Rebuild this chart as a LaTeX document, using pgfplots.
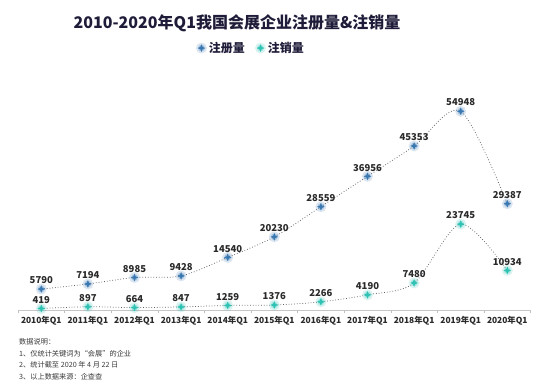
\documentclass[border=0pt]{standalone}
\usepackage{pgfplots}
\pgfplotsset{compat=1.18}
\usepackage{fontspec}
\setmainfont{Noto Sans CJK SC}
\definecolor{blueM}{HTML}{3A78B2}
\definecolor{tealM}{HTML}{2EC2B4}
\definecolor{titleC}{HTML}{1E1C38}
\definecolor{txtC}{HTML}{2A2A2A}
\definecolor{noteC}{HTML}{3A3A3A}
\definecolor{lineC}{HTML}{5A5F66}
\pgfdeclareplotmark{sparkle}{%
  \pgfsetfillopacity{0.18}%
  \pgfpathcircle{\pgfpointorigin}{1.45\pgfplotmarksize}\pgfusepathqfill
  \pgfsetfillopacity{0.3}%
  \pgfpathcircle{\pgfpointorigin}{0.9\pgfplotmarksize}\pgfusepathqfill
  \pgfsetfillopacity{1}%
  \pgfpathmoveto{\pgfqpoint{0pt}{\pgfplotmarksize}}%
  \pgfpathlineto{\pgfqpoint{.3\pgfplotmarksize}{.3\pgfplotmarksize}}%
  \pgfpathlineto{\pgfqpoint{\pgfplotmarksize}{0pt}}%
  \pgfpathlineto{\pgfqpoint{.3\pgfplotmarksize}{-.3\pgfplotmarksize}}%
  \pgfpathlineto{\pgfqpoint{0pt}{-\pgfplotmarksize}}%
  \pgfpathlineto{\pgfqpoint{-.3\pgfplotmarksize}{-.3\pgfplotmarksize}}%
  \pgfpathlineto{\pgfqpoint{-\pgfplotmarksize}{0pt}}%
  \pgfpathlineto{\pgfqpoint{-.3\pgfplotmarksize}{.3\pgfplotmarksize}}%
  \pgfpathclose\pgfusepathqfill}
\begin{document}
\begin{tikzpicture}[x=1pt,y=1pt]
\useasboundingbox[fill=white] (0,0) rectangle (553,391);
\begin{axis}[
  at={(18pt,81pt)}, anchor=south west,
  width=512.6pt, height=217pt, scale only axis,
  xmin=-0.5, xmax=10.5, ymin=0, ymax=60000,
  clip=false,
  axis y line=none,
  axis x line*=bottom,
  axis line style={draw=gray!45, line width=0.8pt},
  xtick={0,...,10},
  xticklabels={2010年Q1,2011年Q1,2012年Q1,2013年Q1,2014年Q1,2015年Q1,2016年Q1,2017年Q1,2018年Q1,2019年Q1,2020年Q1},
  major tick length=0pt,
  minor xtick={-0.5,0.5,...,10.5},
  minor tick length=3pt,
  tick align=outside,
  minor tick style={draw=gray!50, line width=0.5pt},
  xticklabel style={font=\fontsize{8.4}{10}\selectfont\bfseries, text=txtC, yshift=-3pt},
  point meta=explicit symbolic,
  nodes near coords,
  nodes near coords style={font=\fontsize{9.5}{10}\selectfont\bfseries, text=txtC, anchor=south, yshift=1.5pt},
  legend columns=2,
  legend style={at={(0.4545,1.207)}, anchor=center, draw=none, fill=none,
    font=\fontsize{12}{13}\selectfont\bfseries, text=titleC,
    /tikz/every even column/.append style={column sep=8pt}},
  legend image code/.code={\draw[#1, draw=none] plot coordinates {(0.12cm,0cm)};},
]
\addplot[dotted, color=lineC, line width=0.75pt, smooth, mark=sparkle, mark size=3.8pt,
  mark options={solid, fill=blueM, draw=none}]
  coordinates {(0,5790)[5790] (1,7194)[7194] (2,8985)[8985] (3,9428)[9428] (4,14540)[14540]
   (5,20230)[20230] (6,28559)[28559] (7,36956)[36956] (8,45353)[45353] (9,54948)[54948] (10,29387)[29387]};
\addlegendentry{注册量}
\addplot[dotted, color=lineC, line width=0.75pt, smooth, mark=sparkle, mark size=3.8pt,
  mark options={solid, fill=tealM, draw=none}]
  coordinates {(0,419)[419] (1,897)[897] (2,664)[664] (3,847)[847] (4,1259)[1259]
   (5,1376)[1376] (6,2266)[2266] (7,4190)[4190] (8,7480)[7480] (9,23745)[23745] (10,10934)[10934]};
\addlegendentry{注销量}
\end{axis}
\node[font=\fontsize{16}{18}\selectfont\bfseries, text=titleC] at (237,368) {2010-2020年Q1我国会展企业注册量\&注销量};
\begin{scope}[every node/.style={anchor=west, font=\fontsize{7.2}{8}\selectfont, text=noteC, inner sep=0pt}]
\node at (19,49) {数据说明：};
\node at (19,37) {1、仅统计关键词为“会展”的企业};
\node at (19,26) {2、统计截至 2020 年 4 月 22 日};
\node at (19,14) {3、以上数据来源：企查查};
\end{scope}
\end{tikzpicture}
\end{document}
